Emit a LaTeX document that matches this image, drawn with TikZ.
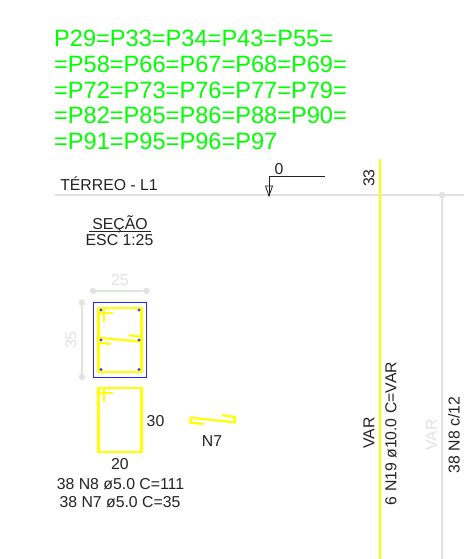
\documentclass[tikz,border=0pt]{standalone}
\usepackage{fontspec}
\setmainfont{Liberation Sans}
\usetikzlibrary{arrows.meta}
\definecolor{rebar}{RGB}{255,255,0}
\definecolor{greentxt}{RGB}{0,255,0}
\definecolor{dimgrey}{RGB}{226,226,226}
\definecolor{ink}{RGB}{35,35,35}
\tikzset{
  x=1pt,y=-1pt,
  lbl/.style={inner sep=0pt,text=ink,font=\fontsize{15.8}{15.8}\selectfont},
  glbl/.style={lbl,text=dimgrey},
  head/.style={inner sep=0pt,anchor=west,text=greentxt,font=\fontsize{23.6}{26}\selectfont},
  bar/.style={draw=rebar,line width=2.8pt,line join=miter},
  thinbar/.style={draw=rebar,line width=2.2pt,line join=miter},
  dimline/.style={draw=dimgrey,line width=1.3pt},
  dimdot/.style={circle,fill=dimgrey,inner sep=0pt,minimum size=6.5pt},
  steeldot/.style={circle,fill=blue!75,inner sep=0pt,minimum size=3.2pt}
}
\begin{document}
\begin{tikzpicture}
\useasboundingbox (0,0) rectangle (464,559);
\fill[white] (0,0) rectangle (464,559);
% heading
\node[head] (h1) at (54,38) {P29=P33=P34=P43=P55=};
\node[head] (h2) at (54,64) {=P58=P66=P67=P68=P69=};
\node[head] (h3) at (54,90) {=P72=P73=P76=P77=P79=};
\node[head] (h4) at (54,115) {=P82=P85=P86=P88=P90=};
\node[head] (h5) at (54,141) {=P91=P95=P96=P97};
% level line and vertical bars
\coordinate (lvlL) at (55,195);
\coordinate (lvlR) at (464,195);
\draw[dimline] (lvlL) -- (lvlR);
\node[dimdot] (gtop) at (442,195) {};
\coordinate (gbot) at (442,559);
\draw[dimline] (gtop) -- (gbot);
\coordinate (ytop) at (380,159);
\coordinate (ybot) at (380,559);
\draw[draw=rebar,line width=2.6pt] (ytop) -- (ybot);
% level mark
\node[lbl] (terreo) at (109,184) {TÉRREO - L1};
\node[lbl] (zero) at (279,169.5) {0};
\coordinate (mkR) at (325,176.5);
\coordinate (mkC) at (269,176.5);
\coordinate (mkB) at (269,196);
\draw[line width=.9pt,ink] (mkR) -- (mkC) -- (mkB);
\draw[line width=.8pt,ink] (265.5,186) -- (272.5,186) -- (269,196) -- cycle;
\node[lbl,rotate=90] (n33) at (369,178) {33};
% section title
\node[lbl] (secao) at (120,224) {SEÇÃO};
\coordinate (ulL) at (89,231.3);
\coordinate (ulR) at (151,231.3);
\draw[line width=.9pt,ink] (ulL) -- (ulR);
\node[lbl] (esc) at (119.5,240) {ESC 1:25};
% dimensions
\node[dimdot] (d25a) at (93,291) {};
\node[dimdot] (d25b) at (146.5,291) {};
\draw[dimline] (d25a) -- (d25b);
\node[glbl] (t25) at (120,280.5) {25};
\node[dimdot] (d35a) at (82,302.5) {};
\node[dimdot] (d35b) at (82,377) {};
\draw[dimline] (d35a) -- (d35b);
\node[glbl,rotate=90] (t35) at (71,340) {35};
% section
\draw[bar] (98.5,308) rectangle (141.5,372);
\draw[thinbar] (98,312.7) -- (113,312.7);
\draw[thinbar] (104,308) -- (104,322);
\draw[thinbar] (111,344) -- (98,342.7) -- (98,337.7) -- (141.7,341.7) -- (141.7,336.7) -- (128.7,335.3);
\draw[blue!85,line width=.9pt] (93,302.5) rectangle (146.5,377);
\foreach \n/\x/\y in {a/101/310,b/139/310,c/101/369.5,d/139/369.5,e/101/340,f/139/340}
  \node[steeldot] (s\n) at (\x,\y) {};
% N8 detail
\draw[bar] (98.5,388) rectangle (141.5,452);
\draw[thinbar] (98,393) -- (113,393);
\draw[thinbar] (104,388) -- (104,402);
\node[lbl] (t30) at (155.5,421) {30};
\node[lbl] (t20) at (120,464) {20};
% N7 detail
\draw[thinbar] (204,424) -- (190.5,422.7) -- (190.5,417.7) -- (235,422.3) -- (235,417) -- (221.7,415.3);
\node[lbl] (tn7) at (212,441) {N7};
% schedule
\node[lbl] (s1) at (120.5,484.5) {38 N8 ø5.0 C=111};
\node[lbl] (s2) at (120,502.5) {38 N7 ø5.0 C=35};
% vertical labels
\node[lbl,rotate=90] (v1) at (369,433) {VAR};
\node[lbl,rotate=90] (v2) at (391,433.5) {6 N19 ø10.0 C=VAR};
\node[glbl,rotate=90] (v3) at (431.5,435) {VAR};
\node[lbl,rotate=90] (v4) at (454,435) {38 N8 c/12};
\end{tikzpicture}
\end{document}
